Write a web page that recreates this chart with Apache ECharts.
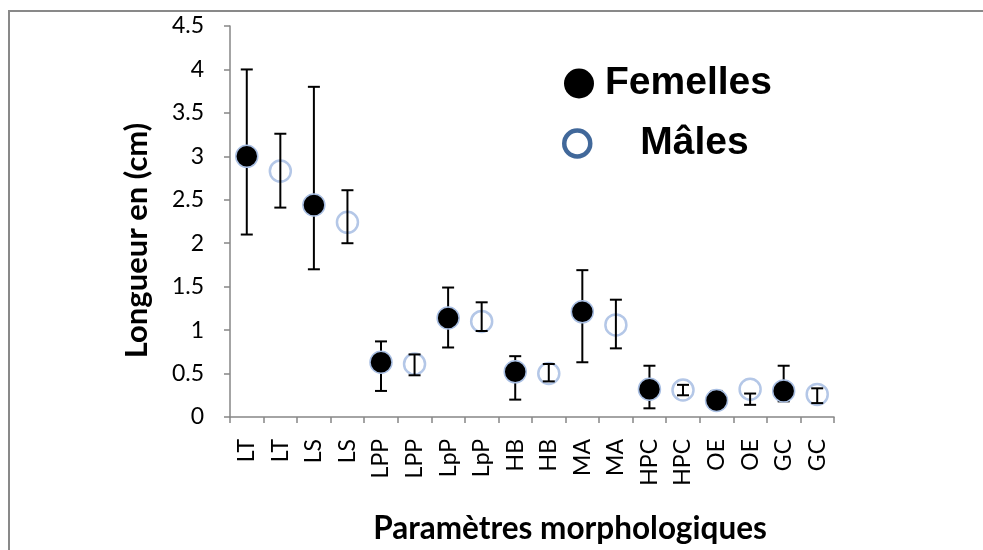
<!DOCTYPE html>
<html>
<head>
<meta charset="utf-8">
<script src="https://cdn.jsdelivr.net/npm/echarts@6/dist/echarts.min.js"></script>
<style>
  html, body { margin: 0; padding: 0; background: #fff; }
  #chart { width: 983px; height: 550px; }
</style>
</head>
<body>
<div id="chart"></div>
<script>
// categories on the x axis (female, male for each parameter)
const categories = ['LT', 'LT', 'LS', 'LS', 'LPP', 'LPP', 'LpP', 'LpP', 'HB', 'HB',
  'MA', 'MA', 'HPC', 'HPC', 'OE', 'OE', 'GC', 'GC']
const yTicks = [0, 0.5, 1, 1.5, 2, 2.5, 3, 3.5, 4, 4.5]

// Femelles: mean, lower and upper end of the error bar
const femelles = [3.00, 2.44, 0.63, 1.14, 0.52, 1.21, 0.32, 0.19, 0.30]
const femellesLow = [2.10, 1.70, 0.30, 0.80, 0.20, 0.63, 0.10, 0.10, 0.18]
const femellesHigh = [4.00, 3.80, 0.87, 1.49, 0.70, 1.69, 0.59, 0.30, 0.59]

// Males
const males = [2.83, 2.24, 0.61, 1.10, 0.50, 1.06, 0.31, 0.32, 0.26]
const malesLow = [2.41, 2.00, 0.48, 0.99, 0.41, 0.79, 0.25, 0.14, 0.16]
const malesHigh = [3.26, 2.61, 0.72, 1.32, 0.61, 1.35, 0.37, 0.27, 0.33]

const tickFont = 'Lato'
const femData = femelles.map((v, i) => [i * 2, v])
const malData = males.map((v, i) => [i * 2 + 1, v])
const femErr = femelles.map((v, i) => [i * 2, femellesLow[i], femellesHigh[i]])
const malErr = males.map((v, i) => [i * 2 + 1, malesLow[i], malesHigh[i]])

const renderErr = (params, api) => {
  let x = api.value(0)
  let lo = api.coord([x, api.value(1)])
  let hi = api.coord([x, api.value(2)])
  let w = 6
  let st = { stroke: '#000', lineWidth: 2 }
  return {
    type: 'group',
    children: [
      { type: 'line', shape: { x1: lo[0], y1: lo[1], x2: hi[0], y2: hi[1] }, style: st },
      { type: 'line', shape: { x1: lo[0] - w, y1: lo[1], x2: lo[0] + w, y2: lo[1] }, style: st },
      { type: 'line', shape: { x1: hi[0] - w, y1: hi[1], x2: hi[0] + w, y2: hi[1] }, style: st }
    ]
  }
}

var myChart = echarts.init(document.getElementById('chart'))
let option = {
  animation: false,
  backgroundColor: '#fff',
  graphic: [
    {
      type: 'rect',
      shape: { x: 9, y: 11, width: 1200, height: 800 },
      style: { fill: 'none', stroke: '#898989', lineWidth: 2 },
      silent: true
    }
  ],
  grid: { left: 230, right: 149, top: 26, bottom: 114 },
  legend: [
    {
      left: 564, top: 64, padding: 0,
      itemWidth: 30, itemHeight: 30,
      data: [{ name: 'Femelles', icon: 'circle', itemStyle: { color: '#000', borderWidth: 0 } }],
      textStyle: { fontFamily: 'Liberation Sans', fontWeight: 'bold', fontSize: 39, color: '#000', padding: [0, 0, 0, 6] }
    },
    {
      left: 562, top: 124, padding: 0,
      itemWidth: 26, itemHeight: 26,
      data: [{ name: 'Mâles', icon: 'circle', itemStyle: { color: '#fff', borderColor: '#41689A', borderWidth: 4.5 } }],
      textStyle: { fontFamily: 'Liberation Sans', fontWeight: 'bold', fontSize: 39, color: '#000', padding: [0, 0, 0, 45] }
    }
  ],
  xAxis: {
    type: 'category',
    data: categories,
    boundaryGap: true,
    name: 'Paramètres morphologiques',
    nameLocation: 'middle',
    nameGap: 96,
    nameTextStyle: { fontFamily: tickFont, fontWeight: 'bold', fontSize: 31.5, color: '#000', padding: [0, 0, 0, 76] },
    axisLine: { lineStyle: { color: '#868686', width: 1.5 } },
    axisTick: { show: true, interval: 0, length: 6, lineStyle: { color: '#868686', width: 1.5 } },
    axisLabel: { interval: 0, rotate: 90, margin: 22, fontFamily: tickFont, fontSize: 23, color: '#000' },
    splitLine: { show: false }
  },
  yAxis: {
    type: 'value',
    min: yTicks[0],
    max: yTicks[yTicks.length - 1],
    interval: 0.5,
    name: 'Longueur en (cm)',
    nameLocation: 'middle',
    nameGap: 78,
    nameTextStyle: { fontFamily: tickFont, fontWeight: 'bold', fontSize: 31, color: '#000', padding: [0, 38, 0, 0] },
    axisLine: { show: true, lineStyle: { color: '#868686', width: 1.5 } },
    axisTick: { show: true, length: 6, lineStyle: { color: '#868686', width: 1.5 } },
    axisLabel: { margin: 26, fontFamily: tickFont, fontSize: 23, color: '#000' },
    splitLine: { show: false }
  },
  series: [
    {
      name: 'Mâles',
      type: 'scatter',
      data: malData,
      symbol: 'circle',
      symbolSize: 21,
      z: 2,
      itemStyle: { color: '#fff', borderColor: '#B4C7E7', borderWidth: 2.5, opacity: 1 }
    },
    {
      name: 'errMales',
      type: 'custom',
      data: malErr,
      renderItem: renderErr,
      encode: { x: 0, y: [1, 2] },
      z: 3,
      silent: true
    },
    {
      name: 'errFemelles',
      type: 'custom',
      data: femErr,
      renderItem: renderErr,
      encode: { x: 0, y: [1, 2] },
      z: 3,
      silent: true
    },
    {
      name: 'Femelles',
      type: 'scatter',
      data: femData,
      symbol: 'circle',
      symbolSize: 22,
      z: 4,
      itemStyle: { color: '#000', borderColor: '#A9BFE3', borderWidth: 1.5, opacity: 1 }
    }
  ]
}
myChart.setOption(option)
</script>
</body>
</html>
